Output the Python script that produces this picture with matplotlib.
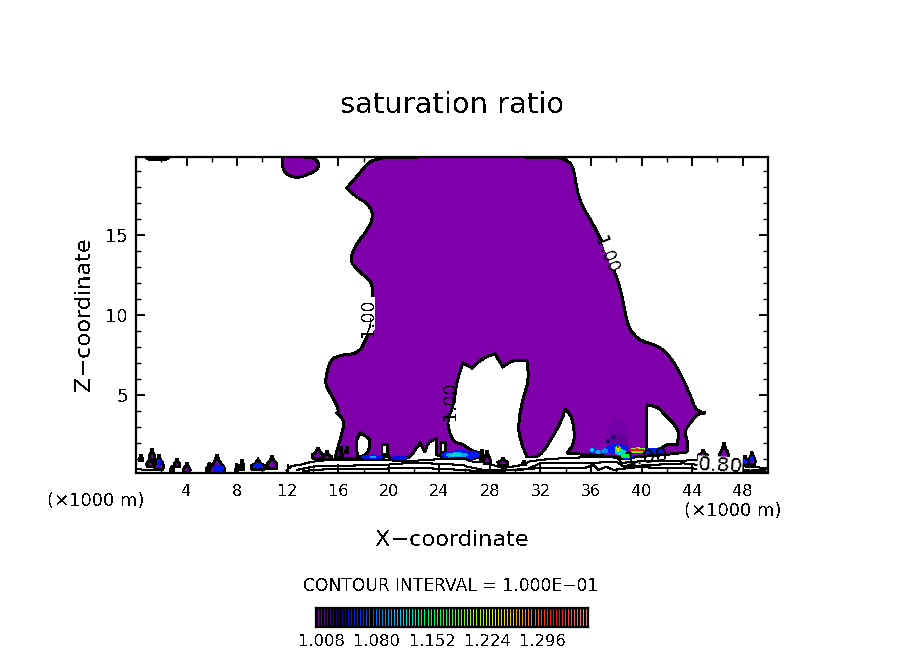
import numpy as np
import matplotlib
matplotlib.use("Agg")
import matplotlib.pyplot as plt
from matplotlib.colors import LinearSegmentedColormap, Normalize
from matplotlib.patches import Ellipse, PathPatch
from matplotlib.path import Path

plt.rcParams['font.family'] = ['DejaVu Sans']
plt.rcParams['text.antialiased'] = False

W, H = 904, 654
XMIN, XMAX, ZMIN, ZMAX = 0.0, 50.0, 0.14, 19.875

# saturated region boundary (km)
plume_x = [20.33, 19.07, 18.35, 17.72, 16.69, 17.48, 18.28, 18.83, 18.35, 17.48, 16.93, 17.25, 17.96, 18.67, 18.75,
           18.75, 18.12, 17.48, 16.14, 15.35, 14.95, 15.11, 15.59, 16.06, 15.90, 16.46, 16.38, 15.98, 15.74, 16.93,
           19.46, 19.94, 20.09, 21.52, 21.91, 22.47, 22.86, 23.10, 23.81, 23.81, 24.84, 27.06, 27.22, 26.42, 25.87,
           25.24, 24.84, 24.60, 25.00, 25.24, 25.40, 25.87, 26.58, 27.45, 28.40, 29.03, 29.83, 30.93, 31.09, 30.62,
           30.22, 30.38, 30.93, 31.96, 32.91, 33.70, 33.94, 34.57, 34.73, 34.10, 38.05, 38.53, 39.24, 41.69, 43.59,
           43.67, 43.35, 43.99, 44.38, 45.02, 44.22, 43.83, 42.41, 41.22, 40.03, 39.24, 38.84, 38.45, 37.90, 36.47,
           34.97, 34.65, 33.94, 32.75]
plume_z = [19.89, 19.77, 19.52, 18.89, 17.95, 17.33, 17.02, 16.27, 15.33, 14.51, 13.58, 13.01, 12.52, 12.08, 11.14,
           9.70, 8.27, 7.58, 7.51, 7.20, 5.95, 5.45, 4.83, 4.08, 3.89, 3.45, 2.83, 1.77, 1.02, 1.02,
           1.02, 1.27, 1.02, 1.02, 1.39, 2.02, 1.45, 2.08, 2.27, 1.27, 1.02, 1.08, 1.39, 1.58, 1.95,
           2.02, 2.51, 3.45, 4.08, 5.02, 5.95, 7.02, 6.70, 7.33, 7.58, 6.77, 7.20, 7.14, 5.95, 4.83,
           3.27, 2.20, 1.14, 1.14, 2.33, 3.45, 4.14, 3.58, 2.02, 1.39, 1.14, 1.02, 1.14, 1.27, 1.45,
           2.08, 2.77, 3.39, 3.83, 3.89, 4.08, 5.14, 7.33, 8.14, 8.33, 8.89, 9.52, 11.27, 12.70, 15.33,
           17.20, 19.27, 19.77, 19.89]

top_x = [11.55, 11.63, 12.42, 13.21, 14.4, 14.48, 13.92]
top_z = [19.89, 18.95, 18.58, 18.64, 19.08, 19.58, 19.89]
top2_x = [0.8, 1.0, 2.4, 2.6]
top2_z = [19.89, 19.7, 19.7, 19.89]

hole_x = [[17.33, 17.72, 18.35, 18.59, 18.28, 17.56],
          [19.46, 19.66, 19.86, 19.86, 19.46],
          [24.13, 24.50, 24.50, 24.13],
          [40.35, 40.43, 41.30, 41.69, 43.03, 42.80, 42.09, 41.69, 41.45]]
hole_z = [[2.02, 2.64, 2.39, 2.02, 1.27, 1.14],
          [1.89, 1.95, 1.89, 1.27, 1.27],
          [2.02, 2.02, 1.45, 1.39],
          [1.58, 4.39, 4.27, 3.89, 2.83, 1.89, 1.95, 1.77, 1.58]]

# small saturated cells near the ground
cell_x = [1.27, 1.82, 1.11, 0.40, 3.24, 2.85, 4.03, 5.78, 6.41, 7.99, 8.39, 9.65, 10.76, 14.40, 15.11, 16.22, 16.69,
          27.77, 27.37, 29.03, 30.70, 44.86, 46.52, 48.73, 48.18, 47.86]
cell_z = [1.27, 0.77, 0.77, 1.08, 0.77, 0.39, 0.45, 0.45, 0.58, 0.45, 0.64, 0.64, 0.77, 1.33, 1.20, 1.39, 1.58,
          1.08, 1.27, 0.83, 0.77, 1.27, 1.45, 1.02, 0.89, 0.77]
cell_w = [0.40, 0.63, 0.47, 0.24, 0.40, 0.24, 0.47, 0.40, 1.10, 0.16, 0.24, 0.95, 0.71, 0.79, 0.63, 0.16, 0.16,
          0.47, 0.24, 0.71, 0.24, 0.63, 0.63, 0.47, 0.40, 0.32]
cell_h = [0.56, 0.75, 0.44, 0.31, 0.38, 0.25, 0.50, 0.44, 1.00, 0.38, 0.50, 0.50, 0.63, 0.56, 0.44, 0.56, 0.31,
          0.63, 0.50, 0.38, 0.19, 0.44, 0.81, 0.63, 0.50, 0.38]

# supersaturation maxima: centre, extent, value
hot_x = [1.82, 6.50, 9.65, 48.73, 48.18,
         18.67, 18.75, 20.90, 25.70, 25.40, 25.24,
         38.13, 38.29, 37.74, 37.34, 38.05, 36.08, 36.08, 36.55, 37.10, 40.66, 38.90, 38.30, 38.13, 38.13, 38.13,
         38.77, 39.72, 39.64]
hot_z = [0.77, 0.40, 0.60, 1.00, 0.85,
         1.14, 1.14, 1.08, 1.27, 1.27, 1.27,
         2.45, 2.00, 2.39, 2.14, 1.64, 1.58, 1.58, 1.45, 1.52, 1.52, 1.14, 1.45, 1.64, 1.70, 1.77,
         1.20, 1.55, 1.58]
hot_w = [0.30, 0.80, 0.55, 0.25, 0.20,
         1.60, 0.47, 1.20, 3.00, 1.70, 0.80,
         1.60, 1.27, 0.30, 0.24, 1.74, 0.47, 0.24, 0.40, 0.47, 2.00, 0.80, 0.80, 0.40, 0.16, 0.12,
         0.70, 1.27, 1.10]
hot_h = [0.40, 0.45, 0.30, 0.35, 0.30,
         0.25, 0.12, 0.19, 0.50, 0.25, 0.12,
         2.25, 1.12, 0.25, 0.19, 0.56, 0.31, 0.15, 0.15, 0.25, 0.31, 0.31, 0.31, 0.31, 0.31, 0.12,
         0.20, 0.31, 0.12]
hot_s = [1.05, 1.05, 1.05, 1.05, 1.05,
         1.05, 1.10, 1.045, 1.05, 1.10, 1.13,
         1.003, 1.008, 1.03, 1.03, 1.05, 1.06, 1.12, 1.10, 1.09, 1.05, 1.05, 1.12, 1.17, 1.24, 1.31,
         1.16, 1.20, 1.31]

# near-ground sub-saturated contours
low1_x = [11.92, 12.30, 12.97, 13.90, 15.35, 16.67, 17.98, 20.10, 21.40, 23.26, 25.90, 26.43, 27.50, 29.06, 30.64, 31.17,
          32.75, 35.90, 38.00, 38.40, 39.85, 43.30, 44.10, 45.90, 48.00, 49.90]
low1_z = [0.30, 0.58, 0.65, 0.84, 0.97, 0.97, 0.93, 0.93, 0.87, 0.97, 1.07, 0.87, 0.80, 0.45, 0.65, 0.87,
          1.02, 1.14, 1.18, 0.77, 0.87, 0.90, 0.97, 0.76, 0.56, 0.45]
low2_x = [12.71, 14.29, 16.67, 19.57, 21.15, 23.26, 25.90, 26.16, 27.50, 29.06, 30.90, 31.96, 35.40, 38.00, 38.56, 40.66,
          43.30, 44.60, 48.60, 50.00]
low2_z = [0.33, 0.58, 0.60, 0.64, 0.74, 0.74, 0.64, 0.54, 0.33, 0.29, 0.37, 0.74, 0.74, 0.85, 0.54, 0.64,
          0.74, 0.64, 0.29, 0.39]
low3_x = [13.24, 15.35, 17.98, 20.60, 23.26, 25.90, 27.50, 31.70, 35.40, 36.20, 36.60, 37.20, 37.75, 39.60, 43.80, 49.90]
low3_z = [0.27, 0.39, 0.39, 0.43, 0.43, 0.33, 0.23, 0.43, 0.43, 0.64, 0.33, 0.54, 0.33, 0.50, 0.43, 0.23]
low4_x = [0.05, 1.10, 2.16]
low4_z = [0.39, 0.30, 0.43]

# contour labels
label_text = ["1.00", "1.00", "1.00", "1.00", "0.80"]
label_x = [18.35, 24.84, 37.20, 40.40, 46.20]
label_z = [9.83, 4.64, 13.77, 1.14, 0.58]
label_rot = [90, 90, -68, 8, -3]
label_size = [12.5, 12.5, 12.5, 14.5, 14.5]
gap_x = [[18.75, 18.75, 18.55], [37.05, 37.80]]
gap_z = [[11.0, 9.2, 8.9], [14.5, 12.95]]

# colour scale
bar_levels = [1.008, 1.080, 1.152, 1.224, 1.296]
bar_labels = ["1.008", "1.080", "1.152", "1.224", "1.296"]
bar_step = 0.004
bar_edge_low, bar_edge_high = 1.0, 1.356
cmap = LinearSegmentedColormap.from_list("sat", [
    (0.00, "#8000b0"), (0.06, "#300070"), (0.08, "#100060"), (0.11, "#0000f0"), (0.32, "#00d0ff"),
    (0.45, "#00ff40"), (0.66, "#f0f000"), (0.80, "#ff7000"), (0.88, "#ff0000"), (1.00, "#ff9090")])
norm = Normalize(bar_edge_low, bar_edge_high)
PURPLE = "#7f00aa"


def smooth_patch(xs, zs, **kw):
    """Closed outline: rounded at gentle bends, sharp at strong ones."""
    p = np.column_stack([xs, zs])
    nxt = np.roll(p, -1, axis=0)
    prv = np.roll(p, 1, axis=0)
    mid = 0.5 * (p + nxt)
    scale = np.array([12.64, 16.0])
    a, b = (p - prv) * scale, (nxt - p) * scale
    cosang = (a * b).sum(1) / (np.hypot(*a.T) * np.hypot(*b.T) + 1e-9)
    sharp = cosang < np.cos(np.radians(65))
    verts = [mid[-1]]
    codes = [Path.MOVETO]
    for c, m, s in zip(p, mid, sharp):
        verts += [c, m]
        codes += [Path.LINETO, Path.LINETO] if s else [Path.CURVE3, Path.CURVE3]
    return PathPatch(Path(verts, codes), **kw)


# outline of a convective cell: flat base, peaked top
CELL_U = [-0.50, 0.50, 0.55, 0.22, 0.0, -0.22, -0.55]
CELL_V = [-0.55, -0.55, -0.05, 0.15, 0.70, 0.15, -0.05]

fig = plt.figure(figsize=(W / 100, H / 100), dpi=100, facecolor="white")
ax = fig.add_axes([136 / W, 1 - 473 / H, 632 / W, 316 / H])
ax.set_xlim(XMIN, XMAX)
ax.set_ylim(ZMIN, ZMAX)

style = dict(edgecolor="black", lw=1.4, antialiased=False)
for xs, zs in [(plume_x, plume_z), (top_x, top_z), (top2_x, top2_z)]:
    ax.add_patch(smooth_patch(xs, zs, facecolor=PURPLE, zorder=2, **style))
for xs, zs in zip(hole_x, hole_z):
    ax.add_patch(smooth_patch(xs, zs, facecolor="white", zorder=3, **style))
for x, z, w, h in zip(cell_x, cell_z, cell_w, cell_h):
    ax.add_patch(smooth_patch(x + np.array(CELL_U) * w, z + np.array(CELL_V) * h, facecolor=PURPLE, zorder=3, **style))
for x, z, w, h, s in zip(hot_x, hot_z, hot_w, hot_h, hot_s):
    ax.add_patch(Ellipse((x, z), w, h, facecolor=cmap(norm(s)), edgecolor="none", antialiased=False, zorder=4))
for xs, zs in [(low1_x, low1_z), (low2_x, low2_z), (low3_x, low3_z), (low4_x, low4_z)]:
    ax.plot(xs, zs, color="black", lw=0.75, antialiased=False, zorder=5)
for xs, zs in zip(gap_x, gap_z):
    ax.plot(xs, zs, color="white", lw=2.2, antialiased=False, zorder=5)
for t, x, z, r, fs in zip(label_text, label_x, label_z, label_rot, label_size):
    bbox = dict(facecolor="white", edgecolor="none", pad=0) if t == "0.80" else None
    ax.text(x, z, t, rotation=r, ha="center", va="center", fontsize=fs, color="black", zorder=6,
            rotation_mode="anchor", bbox=bbox)

ax.set_xticks(np.arange(4, 49, 4))
ax.set_xticks(np.arange(2, 50, 2), minor=True)
ax.set_yticks([5, 10, 15])
ax.set_yticks(np.arange(1, 20, 1), minor=True)
ax.tick_params(which="major", direction="in", top=True, right=True, length=6.5, width=1.4, labelsize=11.5, pad=8)
ax.tick_params(which="minor", direction="in", top=True, right=True, length=3.5, width=1.0)
ax.tick_params(axis="y", labelsize=13, pad=6)
for sp in ax.spines.values():
    sp.set_linewidth(1.6)
    sp.set_zorder(7)


def ptext(px, py, s, **kw):
    fig.text(px / W, 1 - py / H, s, ha="center", va="center", **kw)


ptext(452, 105, "saturation ratio", fontsize=20.8)
ptext(452, 540, "X\u2212coordinate", fontsize=16.1)
ptext(84, 314, "Z\u2212coordinate", fontsize=16.1, rotation=90)
ptext(96, 501, "(\u00d71000 m)", fontsize=13)
ptext(733, 511, "(\u00d71000 m)", fontsize=13)
ptext(451, 586, "CONTOUR INTERVAL = 1.000E\u221201", fontsize=12.3)

cax = fig.add_axes([316 / W, 1 - 627 / H, 272 / W, 19 / H], facecolor="black")
centres = np.arange(bar_edge_low + bar_step / 2, bar_edge_high, bar_step)
cax.vlines(centres, 0.05, 0.95, colors=cmap(norm(centres)), lw=0.6, antialiased=False)
cax.set_xlim(bar_edge_low, bar_edge_high)
cax.set_ylim(0, 1)
cax.set_yticks([])
cax.set_xticks(bar_levels)
cax.set_xticklabels(bar_labels, fontsize=11.8)
cax.tick_params(axis="x", length=0, pad=5)
for sp in cax.spines.values():
    sp.set_linewidth(1.6)

fig.savefig("out.png", dpi=100, facecolor="white")
